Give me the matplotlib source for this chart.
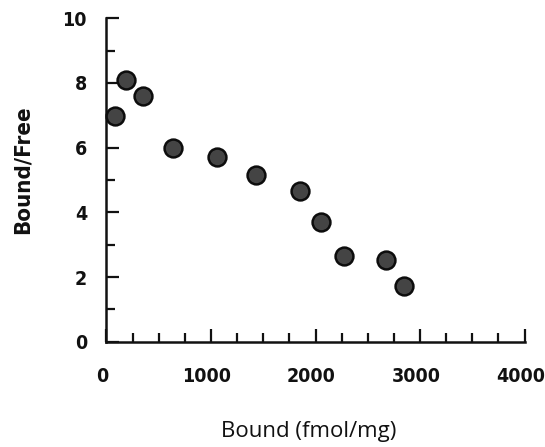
import matplotlib
matplotlib.use("Agg")
import matplotlib.pyplot as plt
from matplotlib.ticker import MultipleLocator
from matplotlib.transforms import ScaledTranslation

# Scatchard plot data
bound = [80, 185, 350, 632, 1059, 1435, 1847, 2051, 2271, 2670, 2845]
bound_free = [6.99, 8.09, 7.60, 6.0, 5.72, 5.15, 4.67, 3.70, 2.65, 2.53, 1.72]

x_ticks = [0, 1000, 2000, 3000, 4000]
y_ticks = [0, 2, 4, 6, 8, 10]

fig = plt.figure(figsize=(5.45, 4.47), dpi=100)
ax = fig.add_axes([0.1954, 0.2356, 0.767, 0.7235])

ax.scatter(bound, bound_free, s=165, facecolor="#444444", edgecolor="#0d0d0d",
           linewidth=1.8, zorder=3, clip_on=False)

ax.set_xlim(0, 4000)
ax.set_ylim(0, 10)
ax.set_xticks(x_ticks)
ax.set_yticks(y_ticks)
ax.xaxis.set_minor_locator(MultipleLocator(250))
ax.yaxis.set_minor_locator(MultipleLocator(1))

for side in ("top", "right"):
    ax.spines[side].set_visible(False)
for side in ("left", "bottom"):
    ax.spines[side].set_linewidth(1.8)
    ax.spines[side].set_color("#111111")

ax.tick_params(axis="both", which="both", direction="in", color="#111111", width=1.6)
ax.tick_params(axis="both", which="major", length=9.5)
ax.tick_params(axis="both", which="minor", length=6.5)
ax.tick_params(axis="x", which="major", pad=18)
ax.tick_params(axis="y", which="major", pad=14)

for lab in ax.get_xticklabels() + ax.get_yticklabels():
    lab.set_fontweight("bold")
    lab.set_fontsize(14)
    lab.set_family("DejaVu Sans")
    lab.set_fontstretch("condensed")
    lab.set_color("#111111")

# nudge the x tick labels slightly left of their ticks
shift = ScaledTranslation(-4 / 100, 0, fig.dpi_scale_trans)
for lab in ax.get_xticklabels():
    lab.set_transform(lab.get_transform() + shift)

ax.set_xlabel("Bound (fmol/mg)", fontsize=16, family="Open Sans", color="#111111")
ax.xaxis.set_label_coords(0.483, -0.295)
ax.xaxis.label.set_verticalalignment("baseline")

ax.set_ylabel("Bound/Free", fontsize=16, fontweight="bold", family="DejaVu Sans",
              fontstretch="condensed", color="#111111")
ax.yaxis.set_label_coords(-0.201, 0.531)
ax.yaxis.label.set_verticalalignment("center")

fig.savefig("out.png", dpi=100)
